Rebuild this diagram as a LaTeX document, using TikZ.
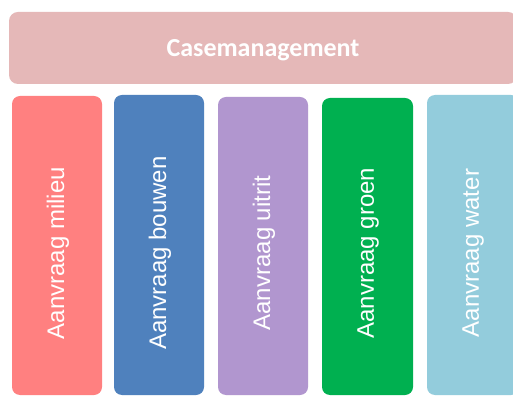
\documentclass[tikz,border=0pt]{standalone}
\usepackage{fontspec}
\setmainfont{Liberation Sans}
\newfontfamily\titlefont{Carlito}
\definecolor{barpink}{HTML}{E5B8B8}
\definecolor{cred}{HTML}{FF8080}
\definecolor{cblue}{HTML}{4F81BD}
\definecolor{cpurple}{HTML}{B196CF}
\definecolor{cgreen}{HTML}{00B050}
\definecolor{ccyan}{HTML}{93CCDC}
\begin{document}
\begin{tikzpicture}[x=1pt,y=1pt,
  bar/.style={rounded corners=9pt},
  col/.style={rounded corners=8pt},
  coltext/.style={rotate=90,text=white,font=\fontsize{24}{27}\selectfont}]
\useasboundingbox (0,0) rectangle (513,396);
\clip (0,0) rectangle (513,396);
\fill[white] (0,0) rectangle (513,396);
% top bar
\fill[barpink,bar] (9,312) rectangle (517,384);
\node[text=white,font=\titlefont\bfseries\fontsize{26}{29}\selectfont] (cm) at (263,346) {Casemanagement};
% columns
\fill[cred,col] (12,1) rectangle (102,300);
\fill[cblue,col] (114,1) rectangle (204,301);
\fill[cpurple,col] (218,1) rectangle (308,299);
\fill[cgreen,col] (322,1) rectangle (413,298);
\fill[ccyan,col] (427,1) rectangle (519,301);
\node[coltext] (t1) at (58,143) {Aanvraag milieu};
\node[coltext] (t2) at (160,143) {Aanvraag bouwen};
\node[coltext] (t3) at (264,143) {Aanvraag uitrit};
\node[coltext] (t4) at (368,143) {Aanvraag groen};
\node[coltext] (t5) at (473,143) {Aanvraag water};
\end{tikzpicture}
\end{document}
